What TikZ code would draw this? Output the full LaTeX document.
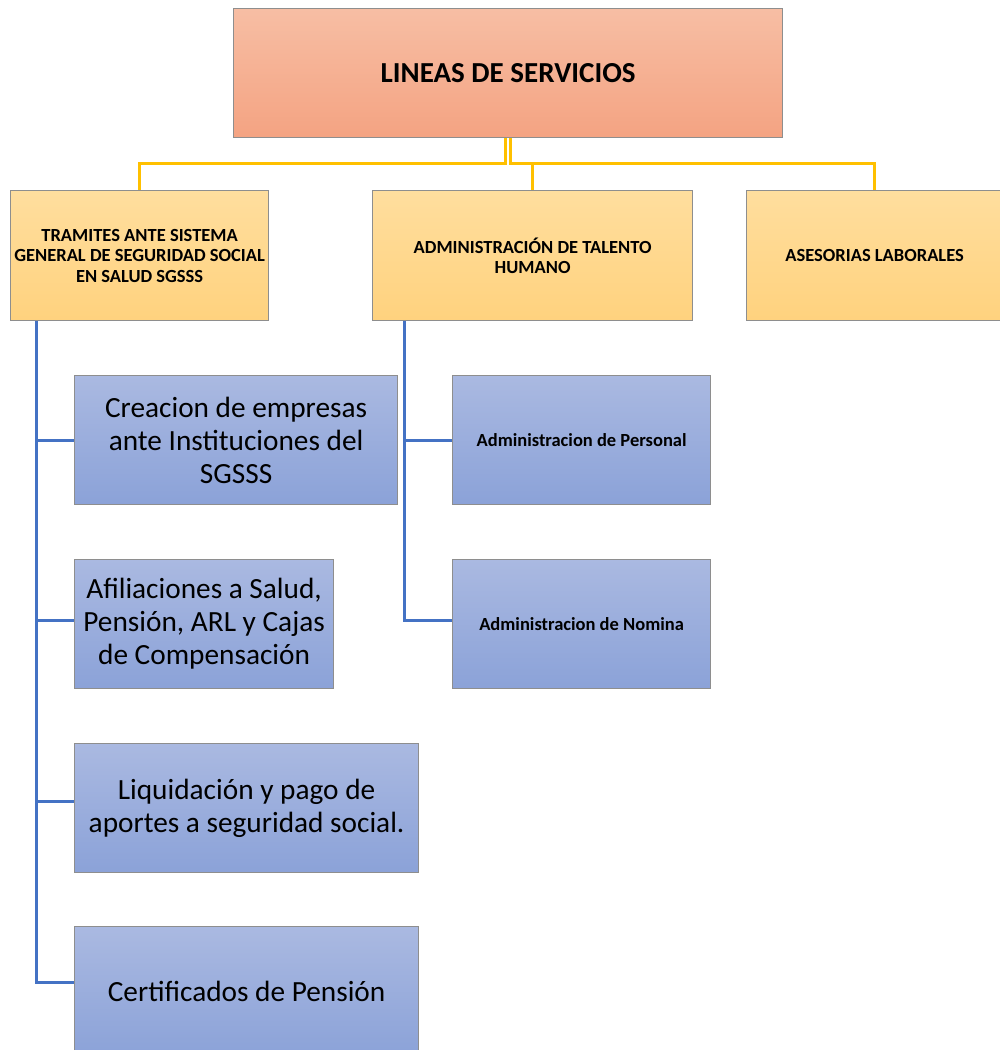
\documentclass[tikz,border=0pt]{standalone}
\usepackage{fontspec}
\setmainfont{Carlito}
\definecolor{ttop}{HTML}{F7BEA4}
\definecolor{tbot}{HTML}{F4A382}
\definecolor{ytop}{HTML}{FFDE9E}
\definecolor{ybot}{HTML}{FFD27E}
\definecolor{btop}{HTML}{AAB9E1}
\definecolor{bbot}{HTML}{8BA2D8}
\definecolor{bord}{HTML}{8E8E8E}
\definecolor{ylline}{HTML}{FFC000}
\definecolor{blline}{HTML}{4472C4}
\tikzset{
  basebox/.style={draw=bord, line width=1.2pt, anchor=north west, align=center, inner sep=2pt, text=black},
  titlebox/.style={basebox, top color=ttop, bottom color=tbot, font=\bfseries\fontsize{29}{34}\selectfont},
  ybox/.style={basebox, top color=ytop, bottom color=ybot, font=\bfseries\fontsize{18.5}{20.5}\selectfont},
  bbox/.style={basebox, top color=btop, bottom color=bbot, font=\fontsize{29.3}{33}\selectfont},
  bboxs/.style={basebox, top color=btop, bottom color=bbot, font=\bfseries\fontsize{18.5}{22}\selectfont},
  yl/.style={draw=ylline, line width=3pt},
  bl/.style={draw=blline, line width=3pt},
}
\begin{document}
\begin{tikzpicture}[x=1pt,y=-1pt]
\clip (0,0) rectangle (1000,1050);
\fill[white] (0,0) rectangle (1000,1050);
% level 0
\node[titlebox, minimum width=549pt, minimum height=129pt] (top) at (233,8) {LINEAS DE SERVICIOS};
% level 1
\node[ybox, minimum width=258pt, minimum height=130pt] (A) at (10,190) {TRAMITES ANTE SISTEMA\\GENERAL DE SEGURIDAD SOCIAL\\EN SALUD SGSSS};
\node[ybox, minimum width=320pt, minimum height=130pt] (B) at (372,190) {ADMINISTRACIÓN DE TALENTO\\HUMANO};
\node[ybox, minimum width=256pt, minimum height=130pt] (C) at (746,190) {ASESORIAS LABORALES};
% level 2 under A
\node[bbox, minimum width=323pt, minimum height=129pt] (c1) at (74,375) {Creacion de empresas\\ante Instituciones del\\SGSSS};
\node[bbox, minimum width=259pt, minimum height=129pt] (c2) at (74,559) {Afiliaciones a Salud,\\Pensión, ARL y Cajas\\de Compensación};
\node[bbox, minimum width=344pt, minimum height=129pt] (c3) at (74,743) {Liquidación y pago de\\aportes a seguridad social.};
\node[bbox, minimum width=344pt, minimum height=130pt] (c4) at (74,926) {Certificados de Pensión};
% level 2 under B
\node[bboxs, minimum width=258pt, minimum height=129pt] (p1) at (452,375) {Administracion de Personal};
\node[bboxs, minimum width=258pt, minimum height=129pt] (p2) at (452,559) {Administracion de Nomina};
% branch points
\coordinate (trA) at (36,0);
\coordinate (trB) at (404,0);
\coordinate (c2b) at ([yshift=4pt]c2.west);
\coordinate (c3b) at ([yshift=7pt]c3.west);
\coordinate (c4b) at ([yshift=9pt]c4.west);
\coordinate (p2b) at ([yshift=4pt]p2.west);
% yellow connectors
\coordinate (busY) at (0,163);
\draw[yl] ([xshift=-2.5pt]top.south) |- (A.north |- busY) -- (A.north);
\draw[yl] ([xshift=2.5pt]top.south) |- (C.north |- busY) -- (C.north);
\draw[yl] (B.north |- busY) -- (B.north);
% blue connectors A
\draw[bl] (A.south -| trA) |- (c4b);
\draw[bl] (trA |- c1.west) -- (c1.west);
\draw[bl] (trA |- c2b) -- (c2b);
\draw[bl] (trA |- c3b) -- (c3b);
% blue connectors B
\draw[bl] (B.south -| trB) |- (p2b);
\draw[bl] (trB |- p1.west) -- (p1.west);
\end{tikzpicture}
\end{document}
